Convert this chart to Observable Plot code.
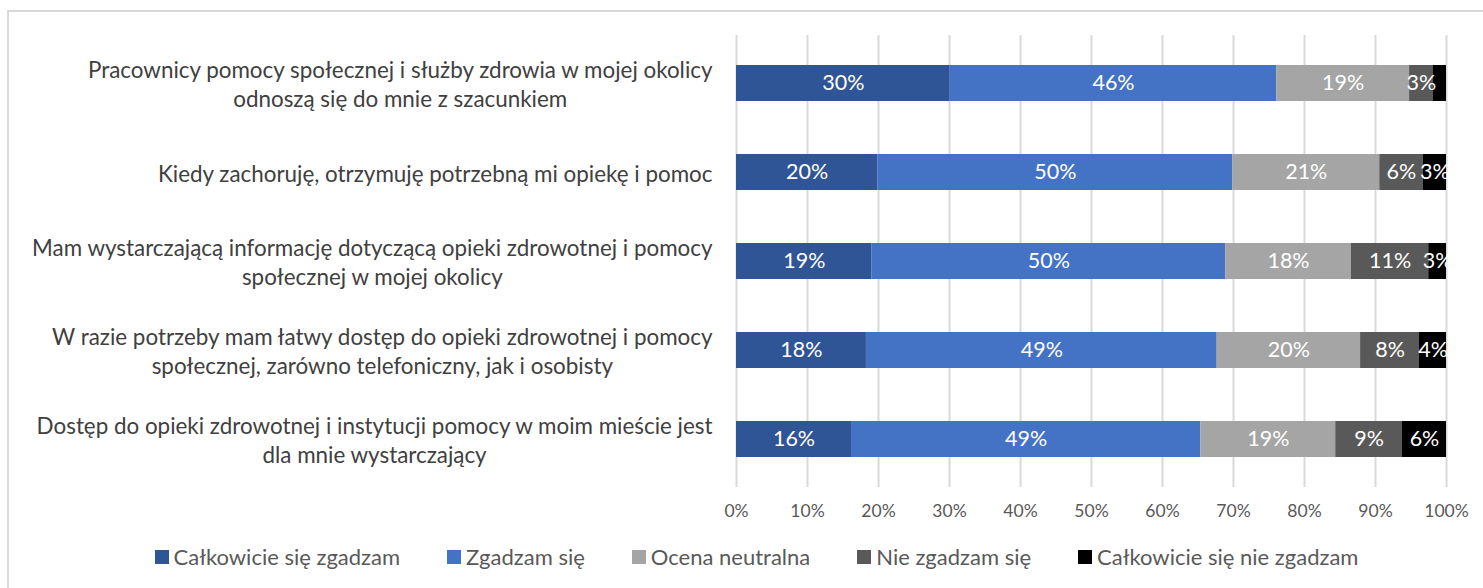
<!DOCTYPE html>
<html>
<head>
<meta charset="utf-8">
<script src="https://cdn.jsdelivr.net/npm/d3@7"></script>
<script src="https://cdn.jsdelivr.net/npm/@observablehq/plot@0.6"></script>
<style>
  html, body { margin: 0; padding: 0; background: #ffffff; }
  body { width: 1483px; height: 588px; position: relative; overflow: hidden; font-family: Lato, "Open Sans", sans-serif; }
  #frame { position: absolute; left: 7px; top: 10px; width: 1500px; height: 600px; border: 2px solid #d9d9d9; box-sizing: border-box; }
  #chart { position: absolute; left: 0; top: 0; }
  #legend { position: absolute; left: 0; top: 543px; width: 1483px; padding-left: 30px; box-sizing: border-box;
            display: flex; justify-content: center; gap: 47px; font-size: 22px; color: #595959; }
  .item { display: flex; align-items: center; white-space: nowrap; }
  .sw { width: 14px; height: 14px; margin-right: 5px; display: inline-block; }
</style>
</head>
<body>
<div id="frame"></div>
<div id="chart"></div>
<div id="legend"></div>
<script>
// ---- data ----
const categories = [
  "Pracownicy pomocy społecznej i służby zdrowia w mojej okolicy\nodnoszą się do mnie z szacunkiem",
  "Kiedy zachoruję, otrzymuję potrzebną mi opiekę i pomoc",
  "Mam wystarczającą informację dotyczącą opieki zdrowotnej i pomocy\nspołecznej w mojej okolicy",
  "W razie potrzeby mam łatwy dostęp do opieki zdrowotnej i pomocy\nspołecznej, zarówno telefoniczny, jak i osobisty",
  "Dostęp do opieki zdrowotnej i instytucji pomocy w moim mieście jest\ndla mnie wystarczający"
];
const seriesNames = ["Całkowicie się zgadzam", "Zgadzam się", "Ocena neutralna", "Nie zgadzam się", "Całkowicie się nie zgadzam"];
const seriesColors = ["#2F5597", "#4472C4", "#A5A5A5", "#595959", "#000000"];
const stronglyAgree    = [30.1, 19.9, 19.1, 18.3, 16.2];
const agree            = [46.0, 50.0, 49.8, 49.4, 49.2];
const neutral          = [18.7, 20.7, 17.7, 20.2, 19.0];
const disagree         = [3.3, 6.1, 10.9, 8.3, 9.4];
const stronglyDisagree = [1.9, 3.3, 2.5, 3.8, 6.2];
const xTicks = [0, 10, 20, 30, 40, 50, 60, 70, 80, 90, 100];

// ---- build table ----
const seriesValues = [stronglyAgree, agree, neutral, disagree, stronglyDisagree];
const data = [];
categories.forEach((c, i) => {
  seriesNames.forEach((s, j) => {
    data.push({category: c, series: s, value: seriesValues[j][i]});
  });
});

const chart = Plot.plot({
  width: 1483,
  height: 530,
  marginLeft: 736,
  marginRight: 37,
  marginTop: 35,
  marginBottom: 43,
  style: {fontFamily: "Lato, 'Open Sans', sans-serif", fontSize: "20px", color: "#404040", background: "transparent"},
  x: {domain: [0, 100], axis: null, label: null},
  y: {domain: categories, paddingInner: 0.6, paddingOuter: 0.32, axis: null, label: null},
  color: {domain: seriesNames, range: seriesColors},
  marks: [
    Plot.gridX(xTicks, {stroke: "#d9d9d9", strokeOpacity: 1, strokeWidth: 2}),
    Plot.barX(data, Plot.stackX({x: "value", y: "category", fill: "series", order: null})),
    Plot.text(data, Plot.stackX({
      x: "value", y: "category", z: "series", order: null,
      text: d => d.value >= 2.2 ? Math.round(d.value) + "%" : "",
      fill: "white", fontSize: 21.5
    })),
    Plot.axisX(xTicks, {tickSize: 0, tickPadding: 17, tickFormat: d => d + "%", fontSize: 17.5, fill: "#595959", anchor: "bottom", label: null}),
    Plot.axisY(categories, {tickSize: 0, tickPadding: 24, fontSize: 22.4, fill: "#404040", lineHeight: 1.3, anchor: "left", label: null})
  ]
});
document.getElementById("chart").appendChild(chart);

// centre the lines of multi-line category labels within their block (Excel style)
chart.querySelectorAll('g[aria-label="y-axis tick label"] text').forEach(t => {
  const spans = t.querySelectorAll("tspan");
  if (spans.length > 1) {
    let w = 0;
    spans.forEach(s => { w = Math.max(w, s.getComputedTextLength()); });
    t.setAttribute("text-anchor", "middle");
    const tr = t.getAttribute("transform") || "";
    t.setAttribute("transform", tr + ` translate(${-w / 2},0)`);
  }
});

// legend
const legend = document.getElementById("legend");
seriesNames.forEach((s, i) => {
  const item = document.createElement("div");
  item.className = "item";
  const sw = document.createElement("span");
  sw.className = "sw";
  sw.style.background = seriesColors[i];
  item.appendChild(sw);
  item.appendChild(document.createTextNode(s));
  legend.appendChild(item);
});
</script>
</body>
</html>
